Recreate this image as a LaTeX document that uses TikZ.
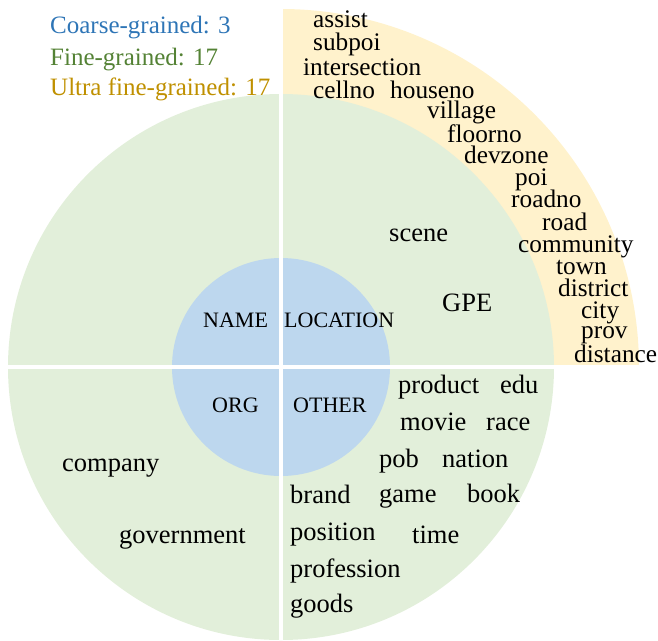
\documentclass[tikz,border=0pt]{standalone}
\usepackage{fontspec}
\setmainfont{Liberation Serif}
\definecolor{coarsefill}{HTML}{BDD7EE}
\definecolor{finefill}{HTML}{E2EFDA}
\definecolor{ultrafill}{HTML}{FFF2CC}
\definecolor{coarsetext}{HTML}{2E75B6}
\definecolor{finetext}{HTML}{548235}
\definecolor{ultratext}{HTML}{BF9000}
\tikzset{
    word/.style={anchor=base west, inner sep=0pt, font=\fontsize{26.5}{26.5}\selectfont},
    ultraword/.style={word, font=\fontsize{25.3}{25.3}\selectfont},
    coarseword/.style={word, font=\fontsize{22}{22}\selectfont},
    legend/.style={word, font=\fontsize{25}{25}\selectfont},
    sep/.style={white, line width=4pt}
}
\begin{document}
\begin{tikzpicture}[x=1pt,y=-1pt]
    \useasboundingbox (0,0) rectangle (658,640);
    \coordinate (c) at (281,367);
    % rings
    \begin{scope}
        \clip (281,0) rectangle (658,367);
        \fill[ultrafill] (c) circle (358);
    \end{scope}
    \fill[finefill] (c) circle (273);
    \fill[coarsefill] (c) circle (109);
    \draw[sep] (281,5) -- (281,640);
    \draw[sep] (4,367) -- (650,367);
    % legend
    \node[legend, text=coarsetext] (coarse) at (50,33) {Coarse-grained: 3};
    \node[legend, text=finetext] (fine) at (50,65) {Fine-grained: 17};
    \node[legend, text=ultratext] (ultra) at (50,95) {Ultra fine-grained: 17};
    % coarse-grained
    \foreach \w/\x/\y in {NAME/203/327, LOCATION/284/327, ORG/212/412, OTHER/293/412} {
        \node[coarseword] (\w) at (\x,\y) {\w};
    }
    % fine-grained
    \foreach \w/\x/\y in {scene/389/241, GPE/442/311, company/62/471, government/119/543,
        product/398/393, edu/500/393, movie/400/430, race/486/430, pob/379/467, nation/442/467,
        brand/290/503, game/379/502, book/467/502, position/290/540, time/412/543,
        profession/290/577, goods/290/612} {
        \node[word] (\w) at (\x,\y) {\w};
    }
    % ultra fine-grained
    \foreach \w/\x/\y in {assist/313/27, subpoi/313/50, intersection/303/75, cellno/313/98,
        houseno/390/98, village/427/118, floorno/447/142, devzone/464/163, poi/515/185,
        roadno/511/207, road/542/230, community/518/252, town/556/274, district/558/296,
        city/581/318, prov/581/338, distance/574/362} {
        \node[ultraword] (\w) at (\x,\y) {\w};
    }
\end{tikzpicture}
\end{document}
